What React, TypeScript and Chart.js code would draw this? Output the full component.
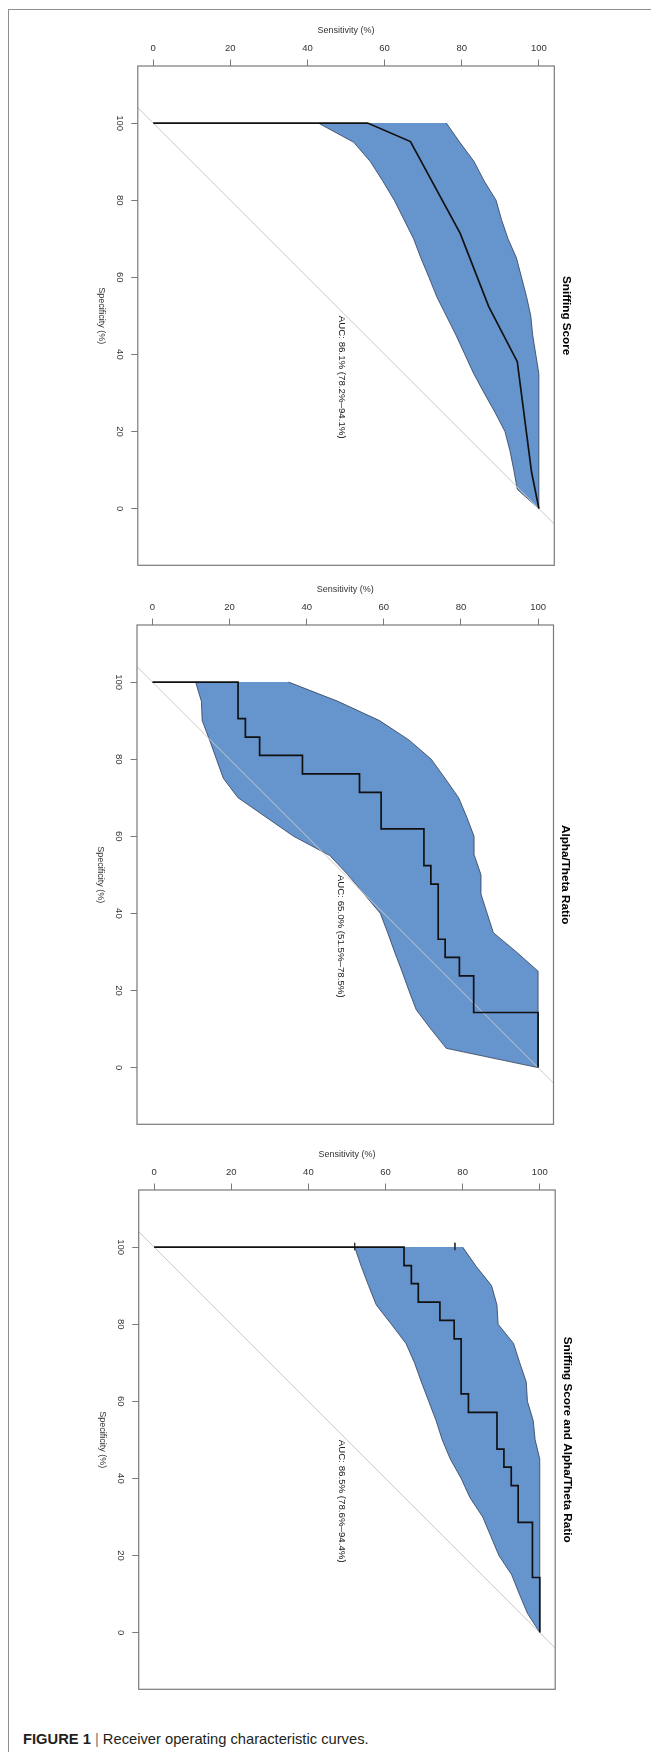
import React, { useEffect, useLayoutEffect, useRef } from "react";
import { Chart, registerables } from "chart.js";

Chart.register(...registerables);

// ---------- data ----------
const SENS_TICKS = [0, 20, 40, 60, 80, 100];
const SPEC_TICKS = [0, 20, 40, 60, 80, 100];
const CI_SPEC = [100, 95, 90, 85, 80, 75, 70, 65, 60, 55, 50, 45, 40, 35, 30, 25, 20, 15, 10, 5, 0];
const DIAG_SENS = [-4, 104];
const DIAG_SPEC = [104, -4];

// Sniffing Score
const sniffRocSens = [0, 55.6, 66.7, 79.6, 87.0, 94.4, 98.1, 100];
const sniffRocSpec = [100, 100, 95.2, 71.4, 52.4, 38.1, 9.5, 0];
const sniffCiLow = [42.8, 52.0, 56.3, 59.5, 62.5, 65.0, 67.5, 69.4, 71.5, 73.5, 76.0, 78.5, 80.8, 83.1, 85.8, 88.6, 91.2, 92.5, 93.5, 94.4, 100];
const sniffCiHigh = [76.0, 79.5, 83.2, 85.8, 88.9, 90.3, 92.0, 94.2, 95.5, 96.8, 97.9, 98.4, 99.2, 100, 100, 100, 100, 100, 100, 100, 100];

// Alpha/Theta Ratio
const alphaRocSens = [0, 22.2, 22.2, 24.1, 24.1, 27.8, 27.8, 38.9, 38.9, 53.7, 53.7, 59.3, 59.3, 70.4, 70.4, 72.2, 72.2, 74.1, 74.1, 75.9, 75.9, 79.6, 79.6, 83.3, 83.3, 100, 100];
const alphaRocSpec = [100, 100, 90.5, 90.5, 85.7, 85.7, 81.0, 81.0, 76.2, 76.2, 71.4, 71.4, 61.9, 61.9, 52.4, 52.4, 47.6, 47.6, 33.3, 33.3, 28.6, 28.6, 23.8, 23.8, 14.3, 14.3, 0];
const alphaCiLow = [11.2, 12.7, 12.9, 14.8, 16.6, 18.4, 22.2, 29.4, 36.6, 46.0, 50.7, 54.9, 59.1, 61.0, 62.8, 64.7, 66.5, 68.4, 72.2, 76.2, 100];
const alphaCiHigh = [35.3, 48.1, 58.9, 66.5, 72.3, 75.9, 79.4, 81.5, 83.4, 83.5, 85.2, 85.2, 86.8, 88.4, 94.4, 100, 100, 100, 100, 100, 100];

// Sniffing Score and Alpha/Theta Ratio
const comboRocSens = [0, 64.8, 64.8, 66.7, 66.7, 68.5, 68.5, 74.1, 74.1, 77.8, 77.8, 79.6, 79.6, 81.5, 81.5, 88.9, 88.9, 90.7, 90.7, 92.6, 92.6, 94.4, 94.4, 98.1, 98.1, 100, 100];
const comboRocSpec = [100, 100, 95.2, 95.2, 90.5, 90.5, 85.7, 85.7, 81.0, 81.0, 76.2, 76.2, 61.9, 61.9, 57.1, 57.1, 47.6, 47.6, 42.9, 42.9, 38.1, 38.1, 28.6, 28.6, 14.3, 14.3, 0];
const comboCiLow = [52.0, 53.7, 55.6, 57.6, 61.5, 65.3, 67.5, 69.3, 71.2, 73.1, 74.7, 76.8, 79.6, 81.9, 85.2, 87.3, 89.4, 92.7, 94.7, 96.8, 100];
const comboCiHigh = [80.0, 83.5, 87.5, 88.9, 89.2, 93.2, 94.8, 96.5, 96.8, 98.3, 98.8, 100, 100, 100, 100, 100, 100, 100, 100, 100, 100];
const comboMarkSens = [52.0, 78.0];

const TITLES = ["Sniffing Score", "Alpha/Theta Ratio", "Sniffing Score and Alpha/Theta Ratio"];
const AUC_TEXT = ["AUC: 86.1% (78.2%–94.1%)", "AUC: 65.0% (51.5%–78.5%)", "AUC: 86.5% (78.6%–94.4%)"];

const PANELS = [
  { title: TITLES[0], auc: AUC_TEXT[0], rocSens: sniffRocSens, rocSpec: sniffRocSpec, ciLow: sniffCiLow, ciHigh: sniffCiHigh, marks: [] as number[] },
  { title: TITLES[1], auc: AUC_TEXT[1], rocSens: alphaRocSens, rocSpec: alphaRocSpec, ciLow: alphaCiLow, ciHigh: alphaCiHigh, marks: [] as number[] },
  { title: TITLES[2], auc: AUC_TEXT[2], rocSens: comboRocSens, rocSpec: comboRocSpec, ciLow: comboCiLow, ciHigh: comboCiHigh, marks: comboMarkSens },
];

// ---------- layout ----------
const LAYOUT = [
  { boxTop: 65.7, boxLeft: 137.8 },
  { boxTop: 625, boxLeft: 137 },
  { boxTop: 1190.3, boxLeft: 138.7 },
];
const BOX_W = 416.5;
const BOX_H = 499.3;
const CANVAS_W = 651;
const CANVAS_H = 580;
const AREA_OFFSET = 60;
const AXIS_SIZE = 7;
const FONT = '"Liberation Sans", Arial, Helvetica, sans-serif';

function rotatedText(ctx: CanvasRenderingContext2D, text: string, x: number, y: number, align: CanvasTextAlign, baseline: CanvasTextBaseline) {
  ctx.save();
  ctx.translate(x, y);
  ctx.rotate(Math.PI / 2);
  ctx.textAlign = align;
  ctx.textBaseline = baseline;
  ctx.fillText(text, 0, 0);
  ctx.restore();
}

function RocPanel({ index }: { index: number }) {
  const ref = useRef<HTMLCanvasElement | null>(null);
  const panel = PANELS[index];
  const lay = LAYOUT[index];

  useEffect(() => {
    const canvas = ref.current;
    if (!canvas) return;

    const rocPts = panel.rocSens.map((x, i) => ({ x, y: panel.rocSpec[i] }));
    const bandPts: { x: number; y: number }[] = [];
    CI_SPEC.forEach((s, i) => bandPts.push({ x: panel.ciLow[i], y: s }));
    for (let i = CI_SPEC.length - 1; i >= 0; i--) bandPts.push({ x: panel.ciHigh[i], y: CI_SPEC[i] });
    const diagPts = DIAG_SENS.map((x, i) => ({ x, y: DIAG_SPEC[i] }));
    const markPts: { x: number; y: number | null }[] = [];
    panel.marks.forEach((m) => {
      markPts.push({ x: m, y: 101.1 });
      markPts.push({ x: m, y: 99.2 });
      markPts.push({ x: m, y: null });
    });

    const textPlugin = {
      id: "rocText",
      afterDraw(chart: any) {
        const { ctx, chartArea: a, scales } = chart;
        const xs = scales.x;
        const ys = scales.y;
        ctx.save();
        ctx.strokeStyle = "#7a7a7a";
        ctx.lineWidth = 1.2;
        ctx.strokeRect(a.left, a.top, a.right - a.left, a.bottom - a.top);

        ctx.fillStyle = "#333";
        ctx.font = `9.5px ${FONT}`;
        ctx.textAlign = "center";
        ctx.textBaseline = "middle";
        SENS_TICKS.forEach((v) => ctx.fillText(String(v), xs.getPixelForValue(v), a.top - 17.5));
        ctx.font = `9px ${FONT}`;
        ctx.fillText("Sensitivity (%)", (a.left + a.right) / 2, a.top - 35);

        ctx.font = `9.5px ${FONT}`;
        SPEC_TICKS.forEach((v) => rotatedText(ctx, String(v), a.left - 18.2, ys.getPixelForValue(v), "center", "middle"));
        ctx.font = `9px ${FONT}`;
        rotatedText(ctx, "Specificity (%)", a.left - 36.1, (a.top + a.bottom) / 2, "center", "middle");

        ctx.fillStyle = "#000";
        ctx.font = `bold 11.7px ${FONT}`;
        rotatedText(ctx, panel.title, a.right + 11.7, (a.top + a.bottom) / 2, "center", "middle");

        ctx.fillStyle = "#222";
        ctx.font = `9.7px ${FONT}`;
        rotatedText(ctx, panel.auc, xs.getPixelForValue(50), ys.getPixelForValue(50), "left", "top");
        ctx.restore();
      },
    };

    const chart = new Chart(canvas, {
      type: "scatter",
      data: {
        datasets: [
          { label: "ROC", data: rocPts, showLine: true, borderColor: "#111", borderWidth: 1.7, pointRadius: 0, fill: false, tension: 0 },
          { label: "marks", data: markPts as any, showLine: true, borderColor: "#333", borderWidth: 1, pointRadius: 0, fill: false, spanGaps: false },
          { label: "identity", data: diagPts, showLine: true, borderColor: "#c9c9c9", borderWidth: 1, pointRadius: 0, fill: false },
          { label: "CI", data: bandPts, showLine: true, borderColor: "#2e3d58", borderWidth: 0.8, backgroundColor: "#6694cd", fill: "shape", pointRadius: 0, tension: 0 },
        ],
      },
      options: {
        animation: false,
        responsive: false,
        events: [],
        layout: {
          padding: {
            top: AREA_OFFSET - AXIS_SIZE,
            left: lay.boxLeft - AXIS_SIZE,
            right: CANVAS_W - lay.boxLeft - BOX_W,
            bottom: CANVAS_H - AREA_OFFSET - BOX_H,
          },
        },
        plugins: { legend: { display: false }, tooltip: { enabled: false }, title: { display: false } },
        scales: {
          x: {
            type: "linear",
            position: "top",
            min: -4,
            max: 104,
            afterBuildTicks: (s: any) => { s.ticks = SENS_TICKS.map((v) => ({ value: v })); },
            afterFit: (s: any) => { s.height = AXIS_SIZE; },
            ticks: { display: false },
            grid: { drawOnChartArea: false, drawTicks: true, tickLength: 6.5, color: "#7a7a7a", lineWidth: 1 },
            border: { display: false },
            title: { display: false },
          },
          y: {
            type: "linear",
            position: "left",
            min: -14.7,
            max: 114.8,
            afterBuildTicks: (s: any) => { s.ticks = SPEC_TICKS.map((v) => ({ value: v })); },
            afterFit: (s: any) => { s.width = AXIS_SIZE; },
            ticks: { display: false },
            grid: { drawOnChartArea: false, drawTicks: true, tickLength: 6.5, color: "#7a7a7a", lineWidth: 1 },
            border: { display: false },
            title: { display: false },
          },
        },
      } as any,
      plugins: [textPlugin],
    });
    return () => chart.destroy();
  }, []);

  return (
    <canvas
      ref={ref}
      width={CANVAS_W}
      height={CANVAS_H}
      style={{ position: "absolute", left: 0, top: lay.boxTop - AREA_OFFSET, width: CANVAS_W, height: CANVAS_H }}
    />
  );
}

function Caption() {
  const ref = useRef<HTMLDivElement | null>(null);
  useLayoutEffect(() => {
    const el = ref.current;
    if (!el) return;
    const w = el.getBoundingClientRect().width;
    if (w > 0) el.style.transform = `scaleX(${345.6 / w})`;
  }, []);
  return (
    <div
      ref={ref}
      style={{
        position: "absolute",
        left: 22.7,
        top: 1730.7,
        fontFamily: FONT,
        fontSize: 14.5,
        lineHeight: "17px",
        whiteSpace: "nowrap",
        display: "inline-block",
        transformOrigin: "left center",
        color: "#231f20",
      }}
    >
      <span style={{ fontWeight: "bold" }}>FIGURE 1</span>
      <span style={{ color: "#777", fontWeight: 300 }}> | </span>
      <span>Receiver operating characteristic curves.</span>
    </div>
  );
}

export default function App() {
  return (
    <div style={{ position: "absolute", left: 0, top: 0, width: 651, height: 1752, background: "#fff", overflow: "hidden" }}>
      <div
        style={{
          position: "absolute",
          left: 7.5,
          top: 8.8,
          width: 651 - 7.5,
          height: 1752 - 8.8,
          borderLeft: "1.3px solid #8f8f8f",
          borderTop: "1.3px solid #8f8f8f",
          boxSizing: "border-box",
        }}
      />
      <RocPanel index={0} />
      <RocPanel index={1} />
      <RocPanel index={2} />
      <Caption />
    </div>
  );
}
